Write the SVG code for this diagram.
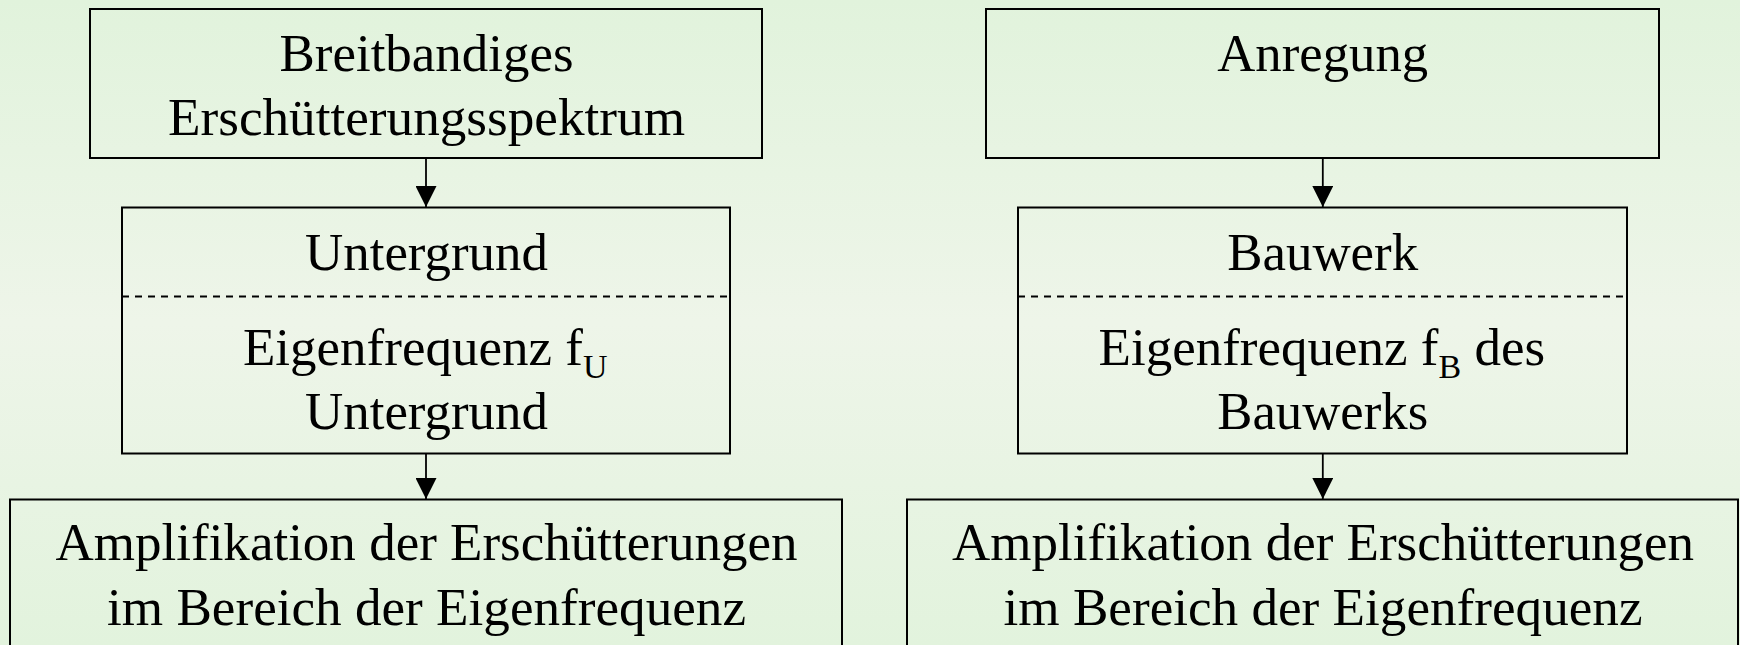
<svg xmlns="http://www.w3.org/2000/svg" width="1740" height="645" viewBox="0 0 1740 645">
  <defs>
    <linearGradient id="bg" x1="0" y1="0" x2="0" y2="1">
      <stop offset="0" stop-color="#e1f3dc"/>
      <stop offset="0.5" stop-color="#eef5e9"/>
      <stop offset="1" stop-color="#e2f3dd"/>
    </linearGradient>
    <marker id="arrow" viewBox="0 0 21 21" markerWidth="21" markerHeight="21" refX="21" refY="10.5" orient="auto" markerUnits="userSpaceOnUse">
      <path d="M0,0 L21,10.5 L0,21 Z" fill="#000"/>
    </marker>
  </defs>
  <style>
    .box { fill: none; stroke: #000; stroke-width: 2; }
    .sep { stroke: #000; stroke-width: 2; stroke-dasharray: 7 6; }
    .edge { stroke: #000; stroke-width: 1.8; fill: none; marker-end: url(#arrow); }
    .t { font-family: "Liberation Serif", "Times New Roman", serif; font-size: 53px; fill: #000; }
    .c { text-anchor: middle; }
    .sub { font-size: 34px; }
  </style>

  <rect x="0" y="0" width="1740" height="645" fill="url(#bg)"/>

  <!-- left column -->
  <g id="spektrum">
    <rect class="box" x="90" y="9" width="672" height="149"/>
    <text class="t c" x="426.5" y="71" textLength="294" lengthAdjust="spacingAndGlyphs">Breitbandiges</text>
    <text class="t c" x="426.5" y="135" textLength="517" lengthAdjust="spacingAndGlyphs">Erschütterungsspektrum</text>
  </g>

  <g id="untergrund">
    <rect class="box" x="122" y="207.5" width="608" height="246"/>
    <line class="sep" x1="122" y1="296.5" x2="730" y2="296.5"/>
    <text class="t c" x="426.5" y="269.5" textLength="243" lengthAdjust="spacingAndGlyphs">Untergrund</text>
    <text class="t" x="243" y="365">Eigenfrequenz f<tspan class="sub" dy="13">U</tspan></text>
    <text class="t c" x="426.5" y="429" textLength="243" lengthAdjust="spacingAndGlyphs">Untergrund</text>
  </g>

  <g id="amplifikation-untergrund">
    <rect class="box" x="10" y="499.5" width="832" height="170"/>
    <text class="t c" x="426.5" y="560" textLength="742" lengthAdjust="spacingAndGlyphs">Amplifikation der Erschütterungen</text>
    <text class="t c" x="426.5" y="625" textLength="639" lengthAdjust="spacingAndGlyphs">im Bereich der Eigenfrequenz</text>
  </g>

  <!-- right column -->
  <g id="anregung">
    <rect class="box" x="986" y="9" width="673" height="149"/>
    <text class="t c" x="1322.7" y="71" textLength="211" lengthAdjust="spacingAndGlyphs">Anregung</text>
  </g>

  <g id="bauwerk">
    <rect class="box" x="1018" y="207.5" width="609" height="246"/>
    <line class="sep" x1="1018" y1="296.5" x2="1627" y2="296.5"/>
    <text class="t c" x="1322.7" y="269.5" textLength="191" lengthAdjust="spacingAndGlyphs">Bauwerk</text>
    <text class="t" x="1098.6" y="365">Eigenfrequenz f<tspan class="sub" dy="13">B</tspan><tspan dy="-13"> des</tspan></text>
    <text class="t c" x="1322.7" y="429" textLength="211" lengthAdjust="spacingAndGlyphs">Bauwerks</text>
  </g>

  <g id="amplifikation-bauwerk">
    <rect class="box" x="907" y="499.5" width="831" height="170"/>
    <text class="t c" x="1323" y="560" textLength="742" lengthAdjust="spacingAndGlyphs">Amplifikation der Erschütterungen</text>
    <text class="t c" x="1323" y="625" textLength="639" lengthAdjust="spacingAndGlyphs">im Bereich der Eigenfrequenz</text>
  </g>

  <!-- connectors -->
  <g id="connectors">
    <line class="edge" x1="426" y1="158" x2="426" y2="207"/>
    <line class="edge" x1="426" y1="453.5" x2="426" y2="499"/>
    <line class="edge" x1="1322.8" y1="158" x2="1322.8" y2="207"/>
    <line class="edge" x1="1322.8" y1="453.5" x2="1322.8" y2="499"/>
  </g>
</svg>
